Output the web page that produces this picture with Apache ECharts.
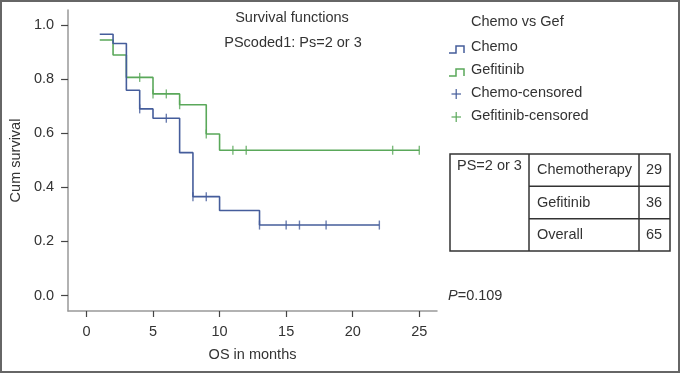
<!DOCTYPE html>
<html>
<head>
<meta charset="utf-8">
<script src="https://cdn.jsdelivr.net/npm/echarts@6/dist/echarts.min.js"></script>
<style>
html,body{margin:0;padding:0;background:#fff;}
#c{width:681px;height:374px;}
</style>
</head>
<body>
<div id="c"></div>
<script>
// ---- data ----
const xTicks = [0, 5, 10, 15, 20, 25];
const yTicks = [0, 0.2, 0.4, 0.6, 0.8, 1.0];
const chemoTimes = [1, 2, 3, 4, 5, 7, 8, 10, 13, 22];
const chemoSurv = [0.9655, 0.931, 0.7586, 0.6897, 0.6552, 0.528, 0.3655, 0.3145, 0.2605, 0.2605];
const gefTimes = [1, 2, 3, 5, 7, 9, 10, 25];
const gefSurv = [0.944, 0.889, 0.806, 0.745, 0.705, 0.597, 0.537, 0.537];
const chemoCensTimes = [4, 6, 8, 9, 13, 15, 16, 18, 22];
const chemoCensSurv = [0.6897, 0.6552, 0.3655, 0.3655, 0.2605, 0.2605, 0.2605, 0.2605, 0.2605];
const gefCensTimes = [4, 5, 6, 7, 9, 11, 12, 23, 25];
const gefCensSurv = [0.806, 0.745, 0.745, 0.705, 0.597, 0.537, 0.537, 0.537, 0.537];
const legendNames = ['Chemo', 'Gefitinib', 'Chemo-censored', 'Gefitinib-censored'];
const tableGroup = 'PS=2 or 3';
const tableRows = ['Chemotherapy', 'Gefitinib', 'Overall'];
const tableN = [29, 36, 65];
const pText = '=0.109';

const BLUE = '#455d9b';
const GREEN = '#5aa85a';
const TXT = '#333';
const FONT = '"Liberation Sans", Arial, sans-serif';
const FS = 14.5;

const zip = (a, b) => a.map((v, i) => [v, b[i]]);

const chart = echarts.init(document.getElementById('c'), null, {renderer: 'canvas'});

const g = [];
// outer border
g.push({type: 'rect', shape: {x: 1, y: 1, width: 678, height: 371}, style: {fill: 'none', stroke: '#666', lineWidth: 2}, silent: true});
// titles
g.push({type: 'text', x: 292, y: 18, style: {text: 'Survival functions', fill: TXT, font: FS + 'px ' + FONT, align: 'center', verticalAlign: 'middle'}});
g.push({type: 'text', x: 293, y: 43, style: {text: 'PScoded1: Ps=2 or 3', fill: TXT, font: FS + 'px ' + FONT, align: 'center', verticalAlign: 'middle'}});
// legend
g.push({type: 'text', x: 471, y: 22, style: {text: 'Chemo vs Gef', fill: TXT, font: FS + 'px ' + FONT, align: 'left', verticalAlign: 'middle'}});
const legY = [47, 70, 93, 116];
const legCol = [BLUE, GREEN, BLUE, GREEN];
legendNames.forEach((n, i) => {
  const y = legY[i];
  g.push({type: 'text', x: 471, y: y, style: {text: n, fill: TXT, font: FS + 'px ' + FONT, align: 'left', verticalAlign: 'middle'}});
  if (i < 2) {
    g.push({type: 'polyline', shape: {points: [[449, y + 6], [456, y + 6], [456, y - 1], [464, y - 1], [464, y + 6]]}, style: {stroke: legCol[i], lineWidth: 1.5, fill: 'none'}});
  } else {
    g.push({type: 'line', shape: {x1: 451.5, y1: y + 1, x2: 461, y2: y + 1}, style: {stroke: legCol[i], lineWidth: 1.2}});
    g.push({type: 'line', shape: {x1: 456.2, y1: y - 4, x2: 456.2, y2: y + 6}, style: {stroke: legCol[i], lineWidth: 1.2}});
  }
});
// table
const tL = 450, tR = 670, tT = 154, tB = 251, c1 = 529, c2 = 639;
const rowH = (tB - tT) / 3;
g.push({type: 'rect', shape: {x: tL, y: tT, width: tR - tL, height: tB - tT}, style: {fill: 'none', stroke: '#333', lineWidth: 1.5}});
g.push({type: 'line', shape: {x1: c1, y1: tT, x2: c1, y2: tB}, style: {stroke: '#333', lineWidth: 1.5}});
g.push({type: 'line', shape: {x1: c2, y1: tT, x2: c2, y2: tB}, style: {stroke: '#333', lineWidth: 1.5}});
for (let i = 1; i < 3; i++) {
  g.push({type: 'line', shape: {x1: c1, y1: tT + rowH * i, x2: tR, y2: tT + rowH * i}, style: {stroke: '#333', lineWidth: 1.5}});
}
g.push({type: 'text', x: 457, y: 166, style: {text: tableGroup, fill: TXT, font: FS + 'px ' + FONT, align: 'left', verticalAlign: 'middle'}});
tableRows.forEach((r, i) => {
  const y = tT + rowH * i + rowH / 2;
  g.push({type: 'text', x: 537, y: y, style: {text: r, fill: TXT, font: FS + 'px ' + FONT, align: 'left', verticalAlign: 'middle'}});
  g.push({type: 'text', x: 654, y: y, style: {text: String(tableN[i]), fill: TXT, font: FS + 'px ' + FONT, align: 'center', verticalAlign: 'middle'}});
});
// P value
g.push({type: 'text', x: 448, y: 296, style: {text: '{i|P}' + pText, rich: {i: {fontStyle: 'italic', fontSize: FS, fontFamily: FONT, fill: TXT}}, fill: TXT, font: FS + 'px ' + FONT, align: 'left', verticalAlign: 'middle'}});

const option = {
  animation: false,
  backgroundColor: '#fff',
  textStyle: {fontFamily: FONT},
  grid: {left: 68, right: 681 - 437, top: 10, bottom: 374 - 311, containLabel: false},
  xAxis: {
    type: 'value', min: -1.38, max: 26.33,
    name: 'OS in months', nameLocation: 'middle', nameGap: 36,
    nameTextStyle: {color: TXT, fontSize: FS, fontFamily: FONT},
    axisLine: {show: true, onZero: false, lineStyle: {color: '#999', width: 1.5}},
    axisTick: {show: true, length: 6, lineStyle: {color: '#444', width: 1.2}, customValues: xTicks},
    axisLabel: {color: TXT, fontSize: FS, fontFamily: FONT, margin: 13, customValues: xTicks},
    splitLine: {show: false}
  },
  yAxis: {
    type: 'value', min: -0.057, max: 1.055,
    name: 'Cum survival', nameLocation: 'middle', nameGap: 42, nameRotate: 90,
    nameTextStyle: {color: TXT, fontSize: FS, fontFamily: FONT},
    axisLine: {show: true, onZero: false, lineStyle: {color: '#999', width: 1.5}},
    axisTick: {show: true, length: 7, lineStyle: {color: '#444', width: 1.2}, customValues: yTicks},
    axisLabel: {color: TXT, fontSize: FS, fontFamily: FONT, margin: 14, customValues: yTicks, formatter: v => v.toFixed(1)},
    splitLine: {show: false}
  },
  series: [
    {name: 'Chemo', type: 'line', step: 'end', data: zip(chemoTimes, chemoSurv), showSymbol: false, lineStyle: {color: BLUE, width: 1.6}, itemStyle: {color: BLUE}, z: 3},
    {name: 'Gefitinib', type: 'line', step: 'end', data: zip(gefTimes, gefSurv), showSymbol: false, lineStyle: {color: GREEN, width: 1.6}, itemStyle: {color: GREEN}, z: 2},
    {name: 'Chemo-censored', type: 'scatter', data: zip(chemoCensTimes, chemoCensSurv), symbol: 'rect', symbolSize: [1.4, 9], itemStyle: {color: BLUE}, z: 4},
    {name: 'Gefitinib-censored', type: 'scatter', data: zip(gefCensTimes, gefCensSurv), symbol: 'rect', symbolSize: [1.4, 9], itemStyle: {color: GREEN}, z: 4}
  ],
  graphic: g
};
chart.setOption(option);
</script>
</body>
</html>
